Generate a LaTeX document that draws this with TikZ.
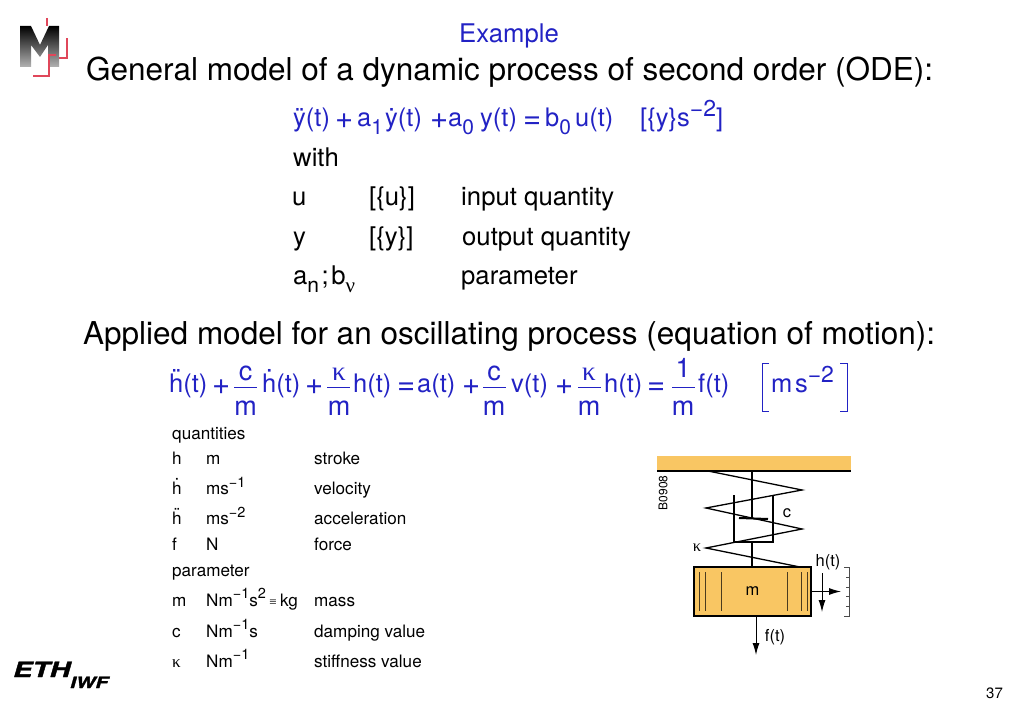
\documentclass[tikz,border=0pt]{standalone}
\usepackage{fontspec}
\setmainfont{TeX Gyre Heros}
\newfontfamily\greekfont{Liberation Serif}
\newfontfamily\logofont[BoldItalicFeatures={FakeBold=1.5}]{TeX Gyre Heros}
\usetikzlibrary{arrows.meta,positioning}
\definecolor{eqblue}{HTML}{2222C4}
\definecolor{massorange}{HTML}{F9C663}
\definecolor{logored}{HTML}{E0475A}
\newcommand{\accdot}[3]{\ooalign{#3\cr\hidewidth\raisebox{#1}{#2}\hidewidth\cr}}
\newcommand{\lowtxt}[1]{\raisebox{-.28em}{\fontsize{21}{24}\selectfont #1}}
\newcommand{\uptxt}[1]{\raisebox{.42em}{\fontsize{23}{26}\selectfont #1}}
\newcommand{\smallup}[1]{\raisebox{.42em}{\fontsize{14.5}{16}\selectfont #1}}
\newcommand{\kap}{{\greekfont κ}}
\tikzset{
    txt/.style={inner sep=0pt, anchor=base west},
    heading/.style={txt, font=\fontsize{31.5}{36}\selectfont},
    body/.style={txt, font=\fontsize{25.7}{30}\selectfont},
    small/.style={txt, font=\fontsize{17.1}{20}\selectfont},
    tiny/.style={inner sep=0pt, font=\fontsize{16.5}{18}\selectfont},
    eqn/.style={txt, text=eqblue, font=\fontsize{25.5}{28}\selectfont},
    eqop/.style={txt, text=eqblue, font=\fontsize{31}{34}\selectfont},
    eqc/.style={txt, anchor=base, text=eqblue, font=\fontsize{27}{30}\selectfont},
    fracbar/.style={eqblue, line width=1pt},
    link/.style={black, line width=1.3pt},
    heavy/.style={black, line width=2pt},
    arr/.style={-{Latex[length=12pt,width=7pt]}, black, line width=1pt},
    slit/.style={black!70!massorange, line width=.8pt}
}

\begin{document}
\begin{tikzpicture}[x=1pt,y=-1pt]
	\useasboundingbox (0,0) rectangle (1023,708);
	% logo
	\shade[top color=black, bottom color=black!30] (20,67) -- (20,26) -- (31,26) -- (40,45) -- (49,26) -- (59,26) -- (59,67) -- (48,67) -- (48,45) -- (40,57) -- (31,45) -- (31,67) -- cycle;
	\draw[logored, line width=1.3pt] (47,18) -- (47,26);
	\draw[logored, line width=1.3pt] (59,58) -- (67,58) -- (67,38);
	\draw[logored, line width=1.3pt] (33,76) -- (49,76) -- (49,55) -- (56,55);
	\node[txt, xscale=1.36, font=\fontsize{21}{24}\logofont\bfseries\itshape] (eth) at (13,677) {ETH};
	\node[txt, xscale=1.33, font=\fontsize{15.5}{18}\logofont\bfseries\itshape] (iwf) at (70,688) {IWF};
	\node[txt, font=\fontsize{15}{18}\selectfont] (page) at (986,698) {37};

	% headings
	\node[body, text=eqblue, anchor=base] (example) at (509,43) {Example};
	\node[heading] (general) at (86,81) {General model of a dynamic process of second order (ODE):};
	\node[heading] (applied) at (83,344.5) {Applied model for an oscillating process (equation of motion):};

	% general equation
	\node[eqn] (ya) at (293,127) {\accdot{0em}{¨}{y}(t)};
	\node[eqop] (pa) at (335,129) {+};
	\node[eqn] (aone) at (357,127) {a\lowtxt{1}};
	\node[eqn] (yb) at (385,127) {\accdot{0em}{˙}{y}(t)};
	\node[eqop] (pb) at (430,129) {+};
	\node[eqn] (azero) at (448,127) {a\lowtxt{0}};
	\node[eqn] (yc) at (480,127) {y(t)};
	\node[eqop] (ea) at (523,129) {=};
	\node[eqn] (bzero) at (545,127) {b\lowtxt{0}};
	\node[eqn] (uc) at (575,127) {u(t)};
	\node[eqn] (unit) at (640,127) {[\{y\}s\uptxt{−2}]};

	\node[body] (with) at (293,167) {with};
	\node[body] (uname) at (292,206) {u};
	\node[body] (uunit) at (369,206) {[\{u\}]};
	\node[body] (utext) at (461,206) {input quantity};
	\node[body] (yname) at (293,246) {y};
	\node[body] (yunit) at (369,246) {[\{y\}]};
	\node[body] (ytext) at (462,246) {output quantity};
	\node[body] (pname) at (293,285) {a\lowtxt{n}\kern.1em;\kern.1em b\lowtxt{\greekfont ν}};
	\node[body] (ptext) at (461,285) {parameter};

	% equation of motion
	\node[eqn] (ha) at (169,393) {\accdot{.21em}{¨}{h}(t)};
	\node[eqop] (qa) at (212,395) {+};
	\node[eqc] (ca) at (245.5,381) {c};
	\draw[fracbar] (234,388) -- (257,388);
	\node[eqc] (ma) at (245.5,416) {m};
	\node[eqn] (hb) at (262,393) {\accdot{.21em}{˙}{h}(t)};
	\node[eqop] (qb) at (305,395) {+};
	\node[eqc] (ka) at (339,381) {\kap};
	\draw[fracbar] (327,388) -- (350,388);
	\node[eqc] (mb) at (339,416) {m};
	\node[eqn] (hc) at (353,393) {h(t)};
	\node[eqop] (eqa) at (397,395) {=};
	\node[eqn] (at) at (417,393) {a(t)};
	\node[eqop] (qc) at (462,395) {+};
	\node[eqc] (cb) at (494,381) {c};
	\draw[fracbar] (483,388) -- (506,388);
	\node[eqc] (mc) at (494,416) {m};
	\node[eqn] (vt) at (511,393) {v(t)};
	\node[eqop] (qd) at (555,395) {+};
	\node[eqc] (kb) at (589,381) {\kap};
	\draw[fracbar] (578,388) -- (601,388);
	\node[eqc] (md) at (589,416) {m};
	\node[eqn] (hd) at (604,393) {h(t)};
	\node[eqop] (eqb) at (647,395) {=};
	\node[eqc] (one) at (683,378) {1};
	\draw[fracbar] (672,388) -- (695,388);
	\node[eqc] (me) at (683,416) {m};
	\node[eqn] (ft) at (698,393) {f(t)};
	\node[eqn] (ms) at (771,393) {m\kern.1em s\uptxt{−2}};
	\draw[fracbar] (769,364) -- (762,364) -- (762,412) -- (769,412);
	\draw[fracbar] (840,364) -- (847,364) -- (847,412) -- (840,412);

	% quantities table
	\node[small] (quant) at (172,439.5) {quantities};
	\node[small] (ha1) at (172,464.5) {h};
	\node[small] (ha2) at (206,464.5) {m};
	\node[small] (ha3) at (314,464.5) {stroke};
	\node[small] (hb1) at (172,494.5) {\accdot{.21em}{˙}{h}};
	\node[small] (hb2) at (206,494.5) {ms\smallup{−1}};
	\node[small] (hb3) at (314,494.5) {velocity};
	\node[small] (hc1) at (172,524.5) {\accdot{.21em}{¨}{h}};
	\node[small] (hc2) at (206,524.5) {ms\smallup{−2}};
	\node[small] (hc3) at (314,524.5) {acceleration};
	\node[small] (fa1) at (172,550) {f};
	\node[small] (fa2) at (206,550) {N};
	\node[small] (fa3) at (314,550) {force};
	\node[small] (param) at (172,576) {parameter};
	\node[small] (ma1) at (172,606) {m};
	\node[small] (ma2) at (206,606) {Nm\smallup{−1}s\smallup{2}\kern.2em{\greekfont\fontsize{13}{14}\selectfont ≡}\kern.2em kg};
	\node[small] (ma3) at (314,606) {mass};
	\node[small] (ca1) at (172,637) {c};
	\node[small] (ca2) at (206,637) {Nm\smallup{−1}s};
	\node[small] (ca3) at (314,637) {damping value};
	\node[small] (ka1) at (172,667) {\kap};
	\node[small] (ka2) at (206,667) {Nm\smallup{−1}};
	\node[small] (ka3) at (314,667) {stiffness value};

	% mass and spring
	\node[draw=black, line width=1.6pt, fill=massorange, minimum width=117pt, minimum height=49pt, inner sep=0pt, font=\fontsize{16.5}{18}\selectfont] (mass) at (752.5,591.5) {m};
	\fill[massorange] (657,456) rectangle (851,470);
	\coordinate (wallL) at (657,471);
	\coordinate (wallR) at (851,471);
	\draw[black, line width=1.8pt] (wallL) -- (wallR);
	\draw[link] (708,471) -- (802,490) -- (706,508) -- (802,529) -- (706,548) -- (800,567);
	\draw[link] (752,471) -- (752,518);
	\draw[heavy] (739,518) -- (768,519);
	\draw[heavy] (734,495) -- (734,542) -- (773,542) -- (773,496);
	\draw[link] (752,542) -- (752,567);
	\draw[slit] (699,572) -- (699,611);
	\draw[slit] (705,572) -- (705,611);
	\draw[slit] (721,572) -- (721,611);
	\draw[slit] (787,572) -- (787,611);
	\draw[slit] (801,572) -- (801,611);
	\draw[slit] (807,572) -- (807,611);
	\coordinate (stroke) at (841,591.5);
	\coordinate (forcetip) at (756,655);
	\draw[arr] (mass.east) -- (stroke);
	\draw[arr] (756,616) -- (forcetip);
	\draw[arr] (822,573) -- (822,612);
	% scale
	\draw[black!70, line width=.7pt] (844,567) -- (849,567) -- (849,616) -- (844,616);
	\draw[black!70, line width=.7pt] (846,577) -- (849,577);
	\draw[black!70, line width=.7pt] (846,587) -- (849,587);
	\draw[black!70, line width=.7pt] (846,596) -- (849,596);
	\draw[black!70, line width=.7pt] (846,606) -- (849,606);
	\node[tiny] (hlabel) at (828,562) {h(t)};
	\node[tiny] (flabel) at (775,637) {f(t)};
	\node[tiny] (clabel) at (787,513) {c};
	\node[tiny] (klabel) at (697,548) {\kap};
	\node[inner sep=0pt, rotate=90, font=\fontsize{12}{14}\selectfont] (code) at (663,493) {B0908};
\end{tikzpicture}
\end{document}
